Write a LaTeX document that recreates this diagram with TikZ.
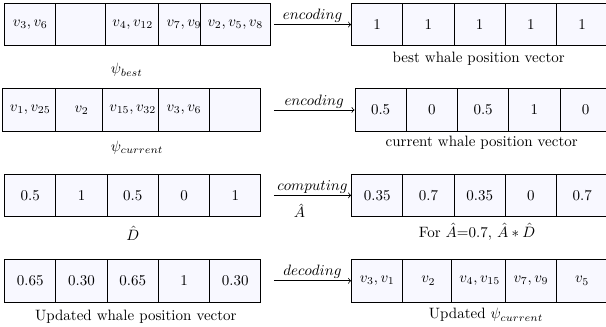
\documentclass[tikz,border=0pt]{standalone}
\usepackage{amsmath}
\usepackage{amssymb}
\usetikzlibrary{positioning}
\definecolor{cellfill}{RGB}{248,248,255}

\begin{document}
\begin{tikzpicture}[cell/.style={draw,fill=cellfill,line width=0.6pt,% one box of a vector
        minimum width=1.2cm,minimum height=1cm,inner xsep=5pt},
        conv/.style={->,line width=0.5pt},
        caption/.style={inner sep=0pt}]
\useasboundingbox (0,0) rectangle (14.19,-7.655); % crop as in the original

% left column: L-row-cell, right column: R-row-cell
\foreach[count=\xi] \x in {{$v_3, v_6$},{},{$v_4, v_{12}$},{$v_7, v_9$},{$v_2, v_5, v_8$}}{
\node[cell] (L-1-\xi) at (-0.49+1.2*\xi,-0.575) {\x};
}
\foreach[count=\xi] \x in {1,1,1,1,1}{
\node[cell] (R-1-\xi) at (7.633+1.2*\xi,-0.575) {\x};
}
\foreach[count=\xi] \x in {{$v_1, v_{25}$},{$v_2$},{$v_{15}, v_{32}$},{$v_3, v_6$},{}}{
\node[cell] (L-2-\xi) at (-0.49+1.2*\xi,-2.575) {\x};
}
\foreach[count=\xi] \x in {0.5,0,0.5,1,0}{
\node[cell] (R-2-\xi) at (7.713+1.2*\xi,-2.575) {\x};
}
\foreach[count=\xi] \x in {0.5,1,0.5,0,1}{
\node[cell] (L-3-\xi) at (-0.49+1.2*\xi,-4.575) {\x};
}
\foreach[count=\xi] \x in {0.35,0.7,0.35,0,0.7}{
\node[cell] (R-3-\xi) at (7.633+1.2*\xi,-4.575) {\x};
}
\foreach[count=\xi] \x in {0.65,0.30,0.65,1,0.30}{
\node[cell] (L-4-\xi) at (-0.49+1.2*\xi,-6.575) {\x};
}
\foreach[count=\xi] \x in {{$v_3, v_1$},{$v_2$},{$v_4, v_{15}$},{$v_7, v_9$},{$v_5$}}{
\node[cell] (R-4-\xi) at (7.633+1.2*\xi,-6.575) {\x};
}

% arrows between the two columns
\foreach \r in {1,2,3,4}{
\coordinate (A-\r) at (6.414,-0.575-2*\r+2);
}
\draw[conv] (A-1) -- (R-1-1.west) node[midway,above,inner sep=1pt] {$encoding$};
\draw[conv] (A-2) -- (R-2-1.west) node[midway,above,inner sep=1pt] {$encoding$};
\draw[conv] (A-3) -- (R-3-1.west) node[midway,above,inner sep=1pt] {$computing$}
 node[pos=0.33,below=2pt] (ahat) {$\hat{A}$};
\draw[conv] (A-4) -- (R-4-1.west) node[midway,above,inner sep=1pt] {$decoding$};

% captions under the vectors
\node[caption] (L-1-lab) at (2.97,-1.64) {$\psi_{best}$};
\node[caption] (R-1-lab) at (11.21,-1.38) {best whale position vector};
\node[caption] (L-2-lab) at (3.21,-3.46) {$\psi_{current}$};
\node[caption] (R-2-lab) at (11.28,-3.35) {current whale position vector};
\node[caption] (L-3-lab) at (3.11,-5.47) {$\hat{D}$};
\node[caption] (R-3-lab) at (11.17,-5.42) {For $\hat{A}$=0.7, $\hat{A} * \hat{D}$};
\node[caption] (L-4-lab) at (3.18,-7.42) {Updated whale position vector};
\node[caption] (R-4-lab) at (11.38,-7.38) {Updated $\psi_{current}$};

\end{tikzpicture}
\end{document}
